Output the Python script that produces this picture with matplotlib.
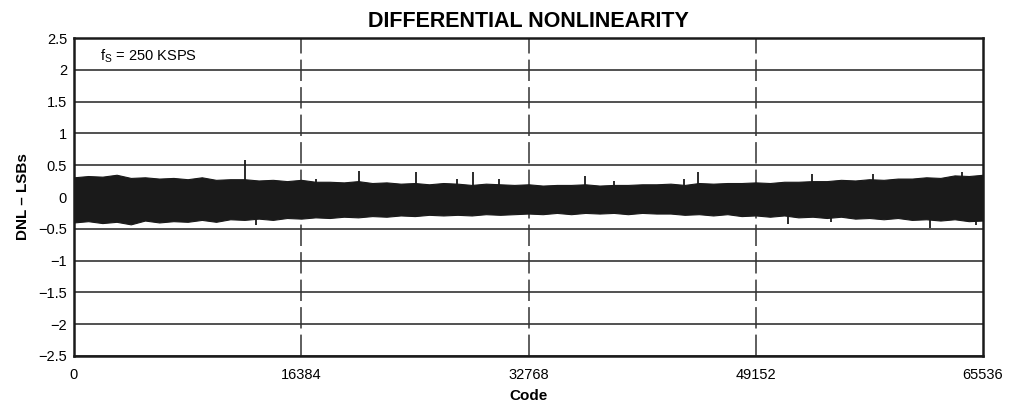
import matplotlib.pyplot as plt
import numpy as np

plt.rcParams['font.family'] = ['Liberation Sans', 'DejaVu Sans']

# Envelope of the DNL band, every 1024 codes
codigos = np.arange(0, 65537, 1024)
topo = [0.31, 0.33, 0.32, 0.35, 0.30, 0.31, 0.29, 0.30, 0.28, 0.31, 0.27, 0.28, 0.28,
        0.26, 0.27, 0.25, 0.27, 0.24, 0.24, 0.23, 0.25, 0.22, 0.23, 0.21, 0.22, 0.20,
        0.22, 0.21, 0.19, 0.21, 0.20, 0.19, 0.20, 0.18, 0.19, 0.19, 0.20, 0.18, 0.19,
        0.19, 0.20, 0.20, 0.21, 0.19, 0.22, 0.21, 0.22, 0.22, 0.23, 0.22, 0.24, 0.24,
        0.25, 0.25, 0.27, 0.26, 0.28, 0.27, 0.29, 0.29, 0.31, 0.30, 0.34, 0.33, 0.35]
fundo = [-0.40, -0.38, -0.41, -0.39, -0.43, -0.37, -0.40, -0.38, -0.39, -0.36, -0.39, -0.35,
         -0.36, -0.34, -0.36, -0.33, -0.34, -0.32, -0.33, -0.31, -0.32, -0.30, -0.31, -0.29,
         -0.30, -0.28, -0.29, -0.28, -0.29, -0.27, -0.28, -0.27, -0.26, -0.27, -0.25, -0.27,
         -0.25, -0.26, -0.25, -0.27, -0.25, -0.26, -0.26, -0.28, -0.27, -0.29, -0.27, -0.30,
         -0.29, -0.31, -0.29, -0.32, -0.31, -0.33, -0.31, -0.34, -0.33, -0.35, -0.33, -0.36,
         -0.35, -0.37, -0.35, -0.38, -0.37]

# Isolated spikes (code, value)
picos_cima_x = [12330, 17450, 20550, 24640, 27620, 28740, 30650, 36850, 38930, 44000, 45000,
                53190, 57590, 64000]
picos_cima_y = [0.58, 0.28, 0.41, 0.39, 0.28, 0.39, 0.28, 0.33, 0.25, 0.28, 0.39,
                0.36, 0.36, 0.39]
picos_baixo_x = [13120, 51500, 54560, 61720, 65040]
picos_baixo_y = [-0.44, -0.43, -0.40, -0.48, -0.44]

yticks = [2.5, 2, 1.5, 1, 0.5, 0, -0.5, -1, -1.5, -2, -2.5]
xticks = [0, 16384, 32768, 49152, 65536]

fig = plt.figure(figsize=(10.15, 4.09), dpi=100)
ax = fig.add_axes([0.0729, 0.1296, 0.8956, 0.7774])

# grade
for y in yticks:
    ax.axhline(y, color='#333333', lw=1.2, zorder=1)
for x in xticks[1:-1]:
    ax.axvline(x, color='#333333', lw=1.1, linestyle=(0, (14, 4)), zorder=1)

# banda
ax.fill_between(codigos, fundo, topo, color='#1a1a1a', lw=0.8,
                edgecolor='#1a1a1a', zorder=3)
ax.vlines(picos_cima_x, 0, picos_cima_y, color='#1a1a1a', lw=1.3, zorder=3)
ax.vlines(picos_baixo_x, picos_baixo_y, 0, color='#1a1a1a', lw=1.3, zorder=3)

ax.set_xlim(0, 65536)
ax.set_ylim(-2.5, 2.5)
ax.set_xticks(xticks)
ax.set_xticklabels([str(x) for x in xticks])
ax.set_yticks(yticks)
ax.set_yticklabels([('%g' % y).replace('-', '\u2212') for y in yticks])
ax.tick_params(length=0, labelsize=10.5, pad=5)
ax.tick_params(axis='x', pad=9)

for s in ax.spines.values():
    s.set_linewidth(1.8)
    s.set_color('#1a1a1a')

ax.text(1900, 2.22, r'f$_\mathregular{S}$ = 250 KSPS', fontsize=10.5, va='center')

ax.set_title('DIFFERENTIAL NONLINEARITY', fontsize=15.5, weight='bold', pad=8)
ax.set_xlabel('Code', fontsize=11, weight='bold', labelpad=5)
ax.set_ylabel('DNL \u2013 LSBs', fontsize=11, weight='bold', labelpad=6)

fig.savefig('out.png', dpi=100)
